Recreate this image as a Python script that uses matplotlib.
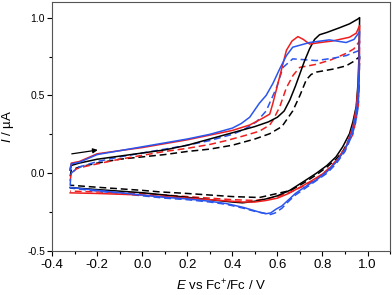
import matplotlib
matplotlib.use("Agg")
import matplotlib.pyplot as plt
from matplotlib.ticker import MultipleLocator, FormatStrFormatter

plt.rcParams['font.family'] = ['Liberation Sans', 'DejaVu Sans']
plt.rcParams['mathtext.fontset'] = 'custom'
plt.rcParams['mathtext.it'] = 'Liberation Sans:italic'
plt.rcParams['mathtext.rm'] = 'Liberation Sans'

# black solid
k_fwd_E = [-0.32, -0.315, -0.28, -0.2, -0.1, 0.0, 0.1, 0.2, 0.3, 0.4, 0.5, 0.56, 0.6, 0.63, 0.655,
           0.68, 0.70, 0.72, 0.743, 0.765, 0.787, 0.82, 0.876, 0.92, 0.956, 0.965]
k_fwd_I = [0.02, 0.05, 0.065, 0.09, 0.11, 0.13, 0.15, 0.18, 0.22, 0.26, 0.30, 0.33, 0.36, 0.40, 0.47,
           0.56, 0.64, 0.72, 0.80, 0.86, 0.89, 0.905, 0.935, 0.96, 0.99, 1.0]
k_rev_E = [0.965, 0.962, 0.958, 0.95, 0.935, 0.92, 0.89, 0.86, 0.82, 0.773, 0.72, 0.655, 0.6, 0.55,
           0.5, 0.446, 0.4, 0.3, 0.2, 0.1, 0.0, -0.1, -0.2, -0.32]
k_rev_I = [1.0, 0.75, 0.58, 0.43, 0.33, 0.254, 0.17, 0.105, 0.05, 0.0, -0.05, -0.11, -0.145, -0.165,
           -0.18, -0.19, -0.185, -0.17, -0.155, -0.14, -0.125, -0.115, -0.105, -0.092]

# black dashed
kd_fwd_E = [-0.32, -0.315, -0.28, -0.2, -0.1, 0.0, 0.1, 0.2, 0.3, 0.4, 0.5, 0.566, 0.62, 0.668,
            0.70, 0.728, 0.75, 0.773, 0.85, 0.905, 0.94, 0.965]
kd_fwd_I = [-0.02, 0.02, 0.04, 0.065, 0.09, 0.105, 0.12, 0.14, 0.155, 0.18, 0.22, 0.254, 0.30, 0.40,
            0.50, 0.60, 0.635, 0.65, 0.67, 0.69, 0.72, 0.75]
kd_rev_E = [0.965, 0.962, 0.955, 0.94, 0.92, 0.89, 0.86, 0.82, 0.773, 0.72, 0.66, 0.6, 0.52, 0.4,
            0.3, 0.2, 0.079, 0.0, -0.1, -0.2, -0.32]
kd_rev_I = [0.75, 0.55, 0.42, 0.31, 0.22, 0.14, 0.09, 0.04, -0.01, -0.06, -0.11, -0.13, -0.156,
            -0.15, -0.14, -0.13, -0.12, -0.11, -0.1, -0.09, -0.077]

# red solid
r_fwd_E = [-0.32, -0.315, -0.28, -0.2, -0.1, 0.0, 0.1, 0.2, 0.3, 0.4, 0.477, 0.53, 0.566, 0.58,
           0.61, 0.64, 0.665, 0.691, 0.715, 0.743, 0.79, 0.845, 0.92, 0.95, 0.965]
r_fwd_I = [0.03, 0.065, 0.075, 0.125, 0.145, 0.165, 0.19, 0.215, 0.245, 0.275, 0.31, 0.35, 0.38,
           0.45, 0.62, 0.79, 0.85, 0.878, 0.86, 0.83, 0.84, 0.85, 0.874, 0.90, 0.95]
r_rev_E = [0.965, 0.962, 0.958, 0.95, 0.935, 0.905, 0.87, 0.83, 0.8, 0.75, 0.7, 0.65, 0.6, 0.55,
           0.5, 0.446, 0.4, 0.3, 0.2, 0.1, 0.0, -0.1, -0.2, -0.32]
r_rev_I = [0.95, 0.7, 0.55, 0.42, 0.3, 0.17, 0.09, 0.03, -0.005, -0.05, -0.09, -0.13, -0.16, -0.175,
           -0.185, -0.185, -0.18, -0.17, -0.16, -0.15, -0.14, -0.135, -0.13, -0.126]

# red dashed
rd_fwd_E = [-0.32, -0.315, -0.29, -0.25, -0.2, -0.1, 0.0, 0.1, 0.2, 0.3, 0.374, 0.45, 0.52, 0.566,
            0.58, 0.61, 0.64, 0.67, 0.699, 0.773, 0.84, 0.905, 0.94, 0.965]
rd_fwd_I = [-0.05, 0.0, 0.03, 0.045, 0.06, 0.09, 0.115, 0.14, 0.16, 0.185, 0.21, 0.24, 0.27, 0.31,
            0.34, 0.425, 0.55, 0.63, 0.68, 0.70, 0.73, 0.77, 0.80, 0.85]
rd_rev_E = [0.965, 0.963, 0.96, 0.95, 0.935, 0.913, 0.88, 0.86, 0.82, 0.78, 0.72, 0.66, 0.6, 0.55,
            0.5, 0.4, 0.3, 0.2, 0.1, 0.0, -0.1, -0.2, -0.32]
rd_rev_I = [0.85, 0.6, 0.45, 0.35, 0.25, 0.19, 0.12, 0.08, 0.02, -0.03, -0.08, -0.12, -0.15, -0.165,
            -0.175, -0.17, -0.16, -0.15, -0.14, -0.13, -0.125, -0.12, -0.115]

# blue solid
b_fwd_E = [-0.32, -0.315, -0.28, -0.2, -0.1, 0.0, 0.1, 0.2, 0.3, 0.4, 0.44, 0.477, 0.52, 0.55,
           0.58, 0.61, 0.64, 0.668, 0.743, 0.83, 0.905, 0.94, 0.965]
b_fwd_I = [0.02, 0.06, 0.07, 0.12, 0.145, 0.17, 0.195, 0.22, 0.25, 0.29, 0.32, 0.36, 0.45, 0.50,
           0.577, 0.67, 0.756, 0.81, 0.84, 0.857, 0.84, 0.86, 0.91]
b_rev_E = [0.965, 0.962, 0.958, 0.95, 0.93, 0.9, 0.86, 0.82, 0.78, 0.72, 0.68, 0.65, 0.62, 0.595,
           0.57, 0.55, 0.52, 0.49, 0.45, 0.374, 0.3, 0.2, 0.1, 0.0, -0.1, -0.2, -0.32]
b_rev_I = [0.91, 0.65, 0.5, 0.38, 0.26, 0.15, 0.07, 0.01, -0.035, -0.09, -0.13, -0.17, -0.21,
           -0.23, -0.255, -0.26, -0.25, -0.237, -0.22, -0.195, -0.18, -0.165, -0.155, -0.14,
           -0.125, -0.11, -0.092]

# blue dashed
bd_fwd_E = [-0.32, -0.318, -0.315, -0.3, -0.28, -0.2, -0.1, 0.0, 0.1, 0.2, 0.3, 0.4, 0.45, 0.507,
            0.55, 0.596, 0.625, 0.668, 0.773, 0.85, 0.905, 0.965]
bd_fwd_I = [-0.08, -0.03, 0.0, 0.02, 0.04, 0.075, 0.105, 0.13, 0.155, 0.18, 0.21, 0.25, 0.28, 0.33,
            0.40, 0.55, 0.68, 0.735, 0.724, 0.74, 0.756, 0.79]
bd_rev_E = [0.965, 0.962, 0.958, 0.945, 0.93, 0.9, 0.86, 0.82, 0.78, 0.72, 0.68, 0.65, 0.62, 0.59,
            0.57, 0.55, 0.5, 0.45, 0.374, 0.3, 0.2, 0.1, 0.0, -0.1, -0.2, -0.32]
bd_rev_I = [0.79, 0.55, 0.42, 0.31, 0.24, 0.14, 0.06, 0.0, -0.04, -0.1, -0.14, -0.18, -0.225,
            -0.255, -0.265, -0.26, -0.245, -0.225, -0.2, -0.185, -0.17, -0.16, -0.145, -0.13,
            -0.115, -0.095]

red = '#f01e1e'
blue = '#2a55ee'
dash = (0, (4.5, 2.5))

fig = plt.figure(figsize=(3.92, 2.95), dpi=100)
ax = fig.add_axes([0.133, 0.149, 0.862, 0.844])

curves = [
    (kd_fwd_E + kd_rev_E, kd_fwd_I + kd_rev_I, 'k', dash),
    (rd_fwd_E + rd_rev_E, rd_fwd_I + rd_rev_I, red, dash),
    (bd_fwd_E + bd_rev_E, bd_fwd_I + bd_rev_I, blue, dash),
    (k_fwd_E + k_rev_E, k_fwd_I + k_rev_I, 'k', '-'),
    (r_fwd_E + r_rev_E, r_fwd_I + r_rev_I, red, '-'),
    (b_fwd_E + b_rev_E, b_fwd_I + b_rev_I, blue, '-'),
]
for E, I, c, ls in curves:
    ax.plot(E, I, color=c, ls=ls, lw=1.1)

ax.annotate('', xy=(-0.185, 0.152), xytext=(-0.325, 0.122),
            arrowprops=dict(arrowstyle='-|>', color='k', lw=0.9, mutation_scale=7))

ax.set_xlim(-0.4, 1.1)
ax.set_ylim(-0.5, 1.1)
ax.xaxis.set_major_locator(MultipleLocator(0.2))
ax.xaxis.set_minor_locator(MultipleLocator(0.1))
ax.yaxis.set_major_locator(MultipleLocator(0.5))
ax.yaxis.set_minor_locator(MultipleLocator(0.25))
ax.xaxis.set_major_formatter(FormatStrFormatter('%.1f'))
ax.yaxis.set_major_formatter(FormatStrFormatter('%.1f'))
ax.tick_params(which='both', direction='out', width=0.8)
ax.tick_params(axis='x', labelsize=9.5, pad=2.5)
ax.tick_params(axis='y', labelsize=7.5, pad=1.5)
ax.tick_params(which='major', length=3.5)
ax.tick_params(which='minor', length=2)
for s in ax.spines.values():
    s.set_linewidth(0.8)
    s.set_color('#555555')

ax.set_xlabel(r'$\it{E}$ vs Fc$^{+}$/Fc / V', fontsize=9.5, labelpad=5)
ax.set_ylabel(r'$\it{I}$ / µA', fontsize=9.5, labelpad=8)

fig.savefig('out.png', dpi=100)
